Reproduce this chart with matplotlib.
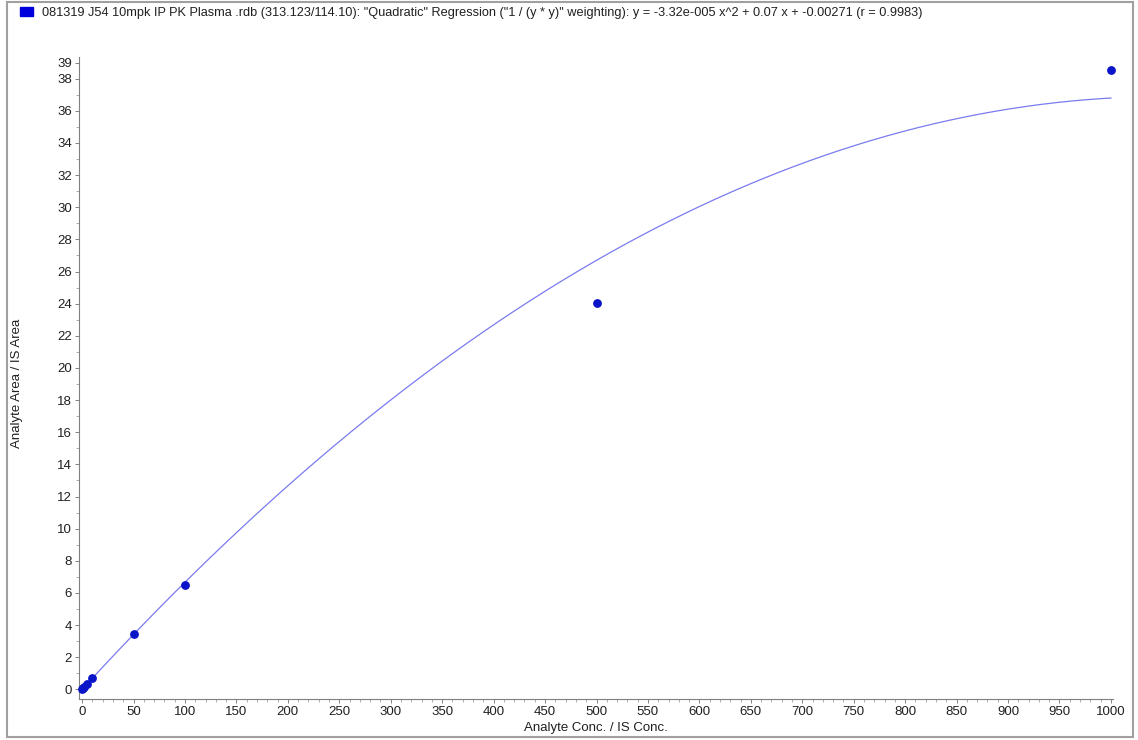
import numpy as np
import matplotlib
matplotlib.use("Agg")
from matplotlib import pyplot as plt
from matplotlib.ticker import MultipleLocator
from matplotlib.patches import Rectangle

plt.rcParams['font.family'] = ['Liberation Sans', 'DejaVu Sans']

# calibration standards (concentration ratio, area ratio)
conc = [0, 1, 2, 5, 10, 50, 100, 500, 1000]
area = [0.0, 0.07, 0.15, 0.36, 0.72, 3.45, 6.47, 24.05, 38.55]

# quadratic fit coefficients from the legend
coef_a = -3.32e-005
coef_b = 0.07
coef_c = -0.00271

title = ('081319 J54 10mpk IP PK Plasma .rdb (313.123/114.10): "Quadratic" Regression '
         '("1 / (y * y)" weighting): y = -3.32e-005 x^2 + 0.07 x + -0.00271 (r = 0.9983)')

W, H = 1138, 740
fig = plt.figure(figsize=(W / 100, H / 100), dpi=100)

# outer frame like the software window
fig.patches.append(Rectangle((7 / W, 3 / H), (1133 - 7) / W, (H - 5) / H,
                             transform=fig.transFigure, fill=False,
                             edgecolor='#a0a0a0', linewidth=1.5))

ax = fig.add_axes([79 / W, 1 - 699 / H, (1113 - 79) / W, (699 - 57) / H])

xs = np.linspace(0, 1000, 400)
ax.plot(xs, coef_a * xs ** 2 + coef_b * xs + coef_c, color='#7b7bf0', linewidth=0.9)
ax.scatter(conc, area, s=40, color='#0a14c8', zorder=3, linewidths=0, clip_on=False)

ax.set_xlim(-3, 1002)
ax.set_ylim(-0.6, 39.35)
ax.xaxis.set_major_locator(MultipleLocator(50))
ax.xaxis.set_minor_locator(MultipleLocator(10))
ax.yaxis.set_minor_locator(MultipleLocator(1))
ax.set_yticks(list(range(0, 39, 2)) + [39])

for s in ['top', 'right']:
    ax.spines[s].set_visible(False)
for s in ['left', 'bottom']:
    ax.spines[s].set_color('#808080')
    ax.spines[s].set_linewidth(0.8)

ax.tick_params(which='major', direction='out', length=3, width=0.7, color='#808080',
               labelsize=9.5, labelcolor='#202020', pad=2)
ax.tick_params(which='minor', direction='out', length=2, width=0.6, color='#a0a0a0')

ax.set_xlabel('Analyte Conc. / IS Conc.', fontsize=9.5, color='#202020', labelpad=3)
ax.set_ylabel('Analyte Area / IS Area', fontsize=9.5, color='#202020')
ax.yaxis.set_label_coords((23 - 79) / (1113 - 79), (699 - 383) / (699 - 57))

# legend line at top
fig.patches.append(Rectangle((20 / W, 1 - 16 / H), 13 / W, 9 / H,
                             transform=fig.transFigure, color='#0000dd'))
fig.text(42 / W, 1 - 13 / H, title, fontsize=9.2, color='#202020', va='center', ha='left')

fig.savefig('out.png', dpi=100)
